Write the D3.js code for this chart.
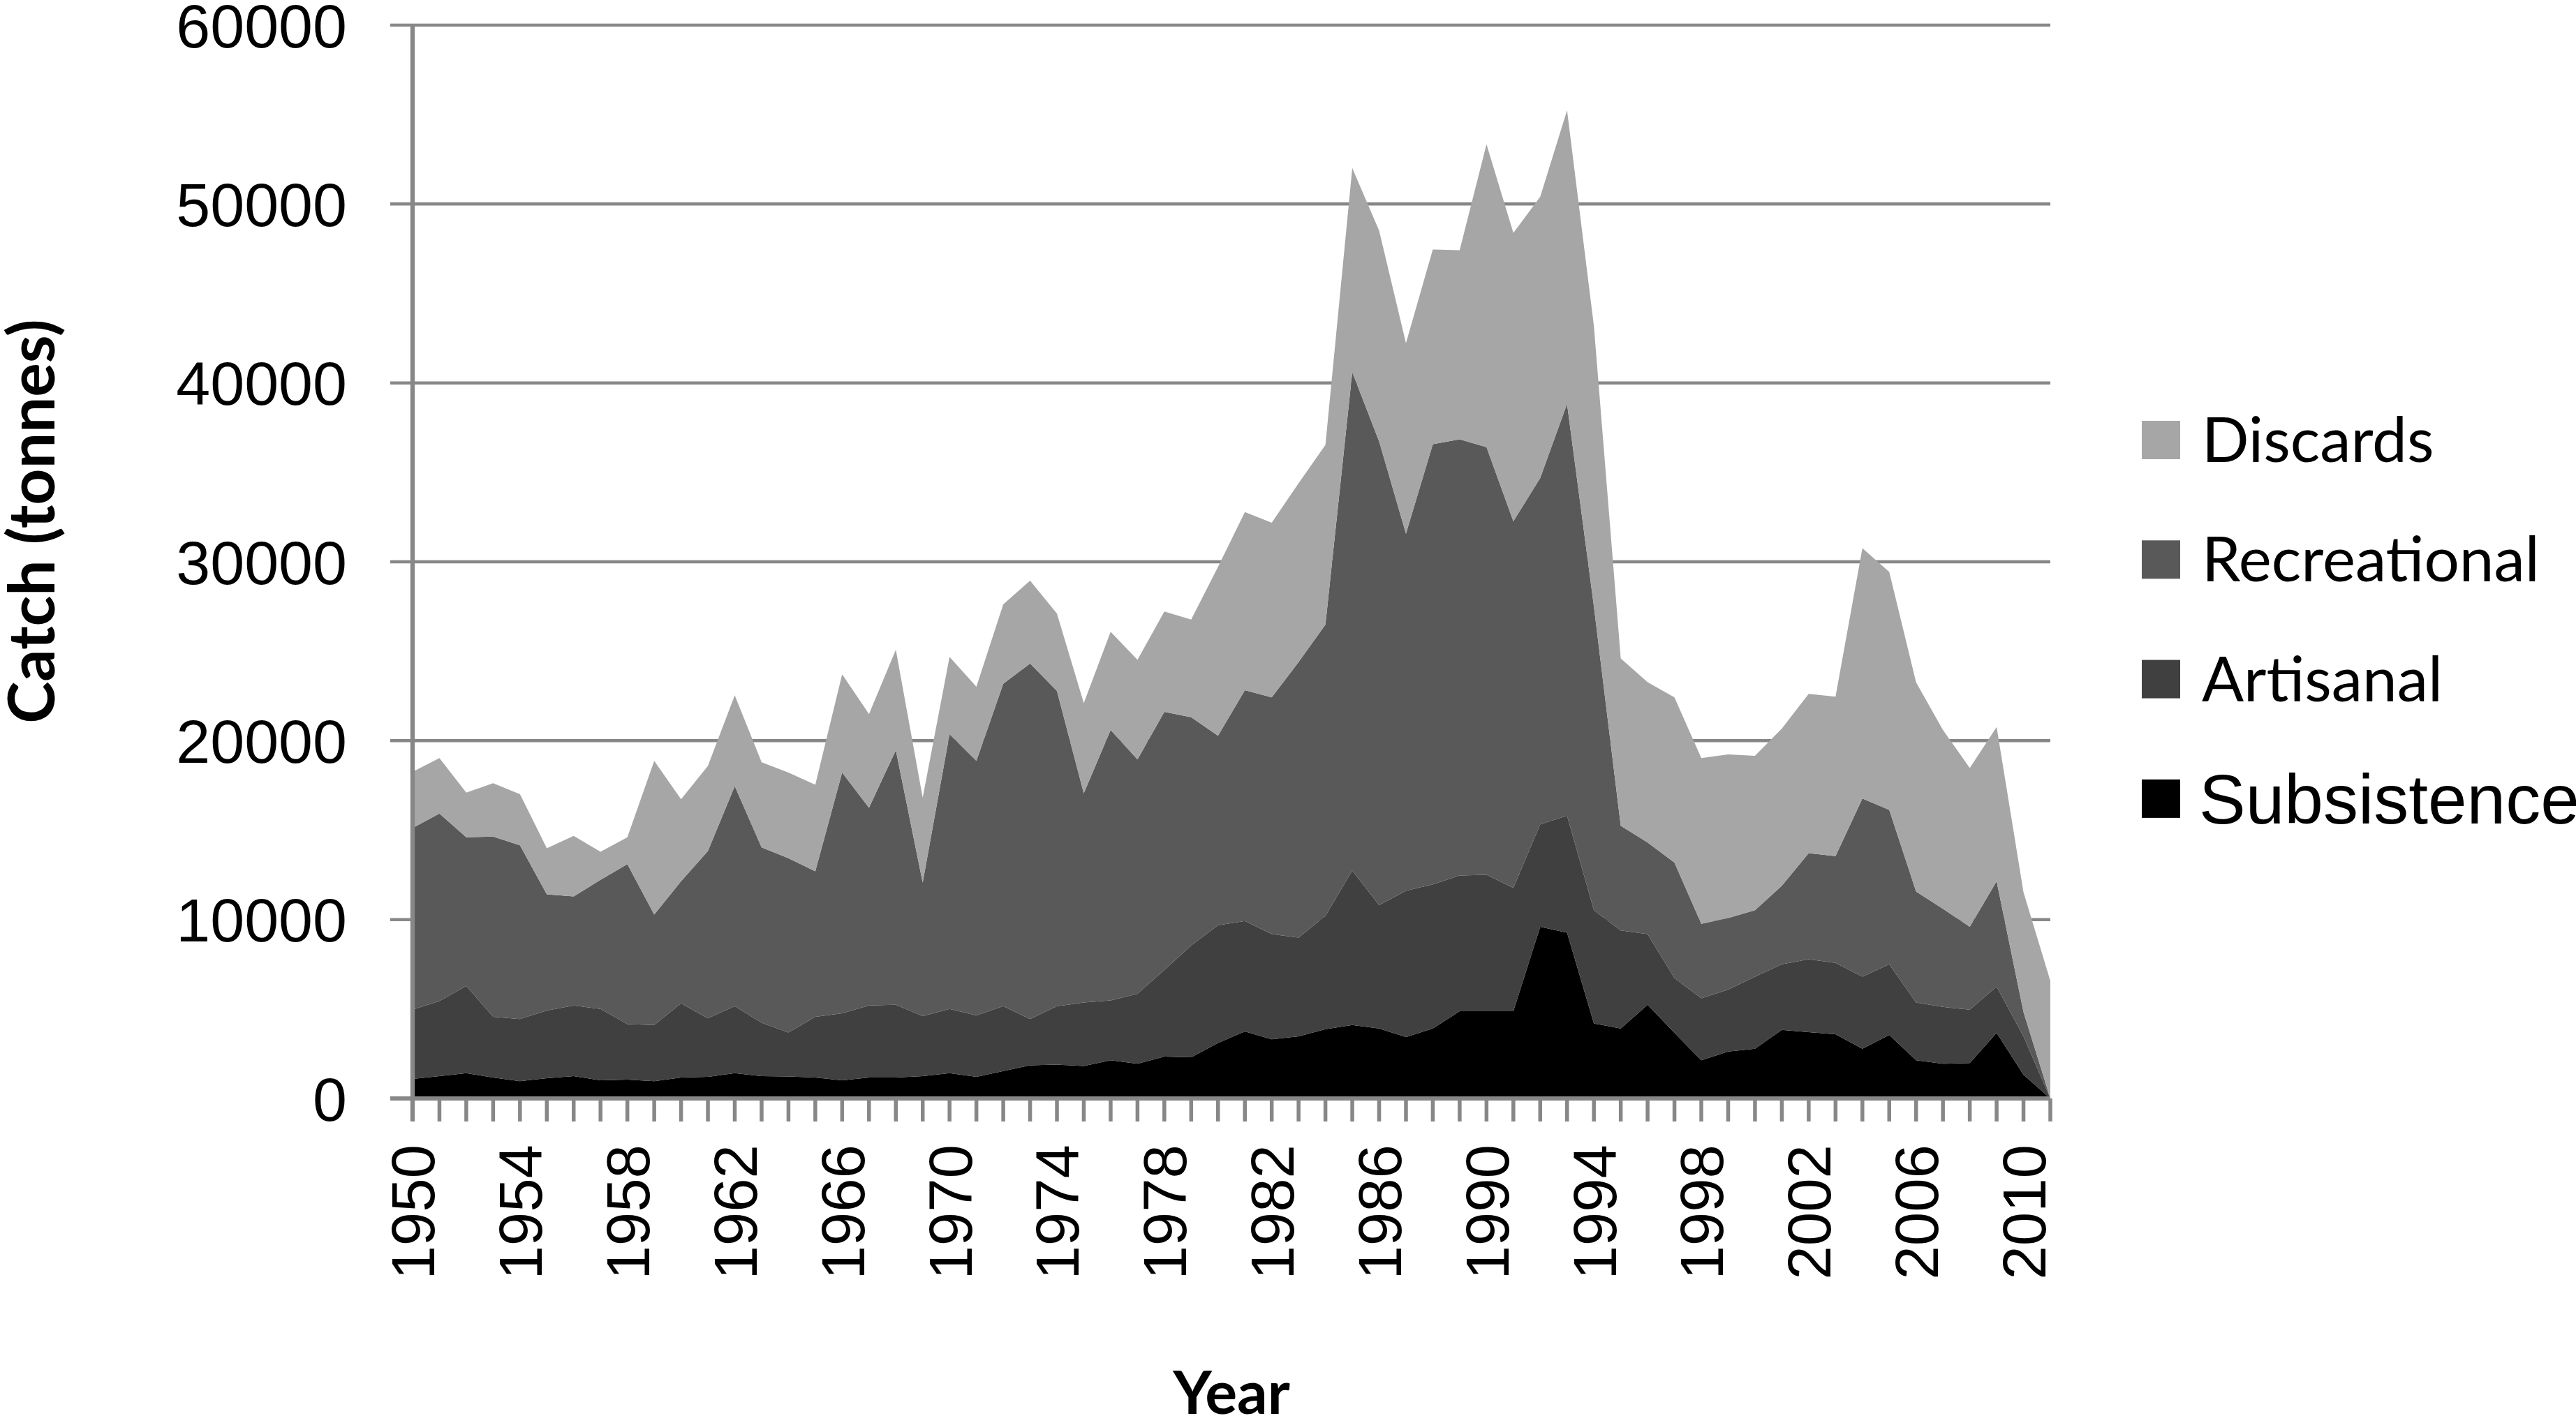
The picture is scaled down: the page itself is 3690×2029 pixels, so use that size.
<!DOCTYPE html>
<html>
<head>
<meta charset="utf-8">
<script src="https://cdn.jsdelivr.net/npm/d3@7"></script>
<style>
  html, body { margin: 0; padding: 0; background: #ffffff; }
  svg { display: block; }
</style>
</head>
<body>
<svg id="chart" width="3690" height="2029"></svg>
<script>
// ---------------- DATA ----------------
const years = [1950,1951,1952,1953,1954,1955,1956,1957,1958,1959,
  1960,1961,1962,1963,1964,1965,1966,1967,1968,1969,
  1970,1971,1972,1973,1974,1975,1976,1977,1978,1979,
  1980,1981,1982,1983,1984,1985,1986,1987,1988,1989,
  1990,1991,1992,1993,1994,1995,1996,1997,1998,1999,
  2000,2001,2002,2003,2004,2005,2006,2007,2008,2009,
  2010,2011];

const subsistence = [1090,1250,1410,1170,970,1130,1250,1010,1050,970,
  1170,1210,1410,1250,1230,1170,1010,1170,1170,1250,
  1410,1210,1530,1850,1890,1810,2140,1940,2340,2300,
  3100,3750,3310,3470,3870,4110,3910,3430,3910,4880,
  4880,4880,9600,9270,4190,3910,5240,3670,2140,2620,
  2780,3830,3710,3590,2780,3550,2140,1940,1980,3670,
  1330,0];

const artisanal = [3870,4190,4880,3390,3470,3790,3950,3990,3100,3140,
  4150,3270,3750,2980,2460,3390,3750,4030,4070,3350,
  3590,3430,3630,2590,3270,3550,3340,3910,4840,6250,
  6580,6170,5880,5520,6330,8630,6900,8180,8060,7580,
  7620,6890,5720,6540,6330,5480,3950,3060,3460,3470,
  4030,3670,4070,3990,4030,3950,3220,3180,2980,2580,
  2140,0];

const recreational = [10160,10490,8310,10080,9710,6490,6090,7220,8950,6170,
  6820,9350,12300,9800,9740,8140,13460,11050,14230,7460,
  15360,14230,18020,19870,17620,11700,15120,13100,14430,12760,
  10600,12900,13230,15400,16290,27860,25920,19960,24600,24390,
  23910,20490,19360,23020,16980,5850,5120,6460,4160,3990,
  3710,4390,5930,5970,9960,8630,6210,5480,4640,5890,
  1370,0];

const discards = [3140,3100,2500,2980,2860,2580,3390,1570,1500,8590,
  4590,4760,5080,4760,4790,4840,5490,5240,5610,4750,
  4320,4150,4440,4640,4320,5040,5490,5570,5610,5460,
  9440,9960,9760,10000,10040,11410,11780,10650,10890,10570,
  16930,16120,15720,16410,15680,9360,8960,9230,9270,9150,
  8630,8790,8910,8910,13990,13300,11690,10000,8870,8620,
  6690,6570];

const seriesNames = ["Subsistence", "Artisanal", "Recreational", "Discards"];
const seriesColors = ["#000000", "#404040", "#595959", "#a6a6a6"];
const legendOrder = ["Discards", "Recreational", "Artisanal", "Subsistence"];
const yTickValues = [0, 10000, 20000, 30000, 40000, 50000, 60000];
const xTickLabels = [1950,1954,1958,1962,1966,1970,1974,1978,1982,1986,1990,1994,1998,2002,2006,2010];
const yAxisTitle = "Catch (tonnes)";
const xAxisTitle = "Year";

// ---------------- TABLE ----------------
const seriesValues = { Subsistence: subsistence, Artisanal: artisanal, Recreational: recreational, Discards: discards };
const table = years.map((yr, i) => {
  const row = { year: yr };
  seriesNames.forEach(k => { row[k] = seriesValues[k][i]; });
  return row;
});

// ---------------- LAYOUT ----------------
const svg = d3.select("#chart");
const plotLeft = 591, plotRight = 2937, plotTop = 36, plotBottom = 1574;
const axisColor = "#878787";

const x = d3.scaleLinear().domain([years[0], years[years.length - 1]]).range([plotLeft, plotRight]);
const y = d3.scaleLinear().domain([0, 60000]).range([plotBottom, plotTop]);

// gridlines (behind areas)
const grid = svg.append("g");
grid.selectAll("line").data(yTickValues.filter(v => v > 0)).join("line")
  .attr("x1", plotLeft - 32).attr("x2", plotRight)
  .attr("y1", d => y(d)).attr("y2", d => y(d))
  .attr("stroke", axisColor).attr("stroke-width", 4.5);

// stacked areas
const stack = d3.stack().keys(seriesNames);
const stacked = stack(table);
const area = d3.area()
  .x(d => x(d.data.year))
  .y0(d => y(d[0]))
  .y1(d => y(d[1]));
const colorOf = d3.scaleOrdinal().domain(seriesNames).range(seriesColors);

svg.append("g").selectAll("path").data(stacked).join("path")
  .attr("d", area)
  .attr("fill", d => colorOf(d.key));

// x axis line and ticks
const xAxisG = svg.append("g");
xAxisG.append("line")
  .attr("x1", plotLeft - 32).attr("x2", plotRight)
  .attr("y1", y(0)).attr("y2", y(0))
  .attr("stroke", axisColor).attr("stroke-width", 6);
xAxisG.selectAll("line.tick").data(years).join("line")
  .attr("class", "tick")
  .attr("x1", d => x(d)).attr("x2", d => x(d))
  .attr("y1", y(0)).attr("y2", y(0) + 33)
  .attr("stroke", axisColor).attr("stroke-width", 5.5);

// y axis line
svg.append("line")
  .attr("x1", plotLeft).attr("x2", plotLeft)
  .attr("y1", plotTop - 2).attr("y2", plotBottom + 33)
  .attr("stroke", axisColor).attr("stroke-width", 6.3);

// y tick labels
svg.append("g").selectAll("text").data(yTickValues).join("text")
  .attr("x", 497)
  .attr("y", d => y(d))
  .attr("dy", "0.36em")
  .attr("text-anchor", "end")
  .attr("font-family", "'Liberation Sans', Arial, sans-serif")
  .attr("font-size", 88)
  .attr("fill", "#000")
  .text(d => d);

// x tick labels (rotated)
svg.append("g").selectAll("text").data(xTickLabels).join("text")
  .attr("transform", d => `translate(${x(d)},1640) rotate(-90)`)
  .attr("dy", "0.36em")
  .attr("text-anchor", "end")
  .attr("font-family", "'Liberation Sans', Arial, sans-serif")
  .attr("font-size", 87)
  .attr("fill", "#000")
  .text(d => d);

// axis titles
svg.append("text")
  .attr("transform", "translate(46,747) rotate(-90)")
  .attr("dy", "0.35em")
  .attr("text-anchor", "middle")
  .attr("font-family", "Lato, 'Open Sans', sans-serif")
  .attr("font-weight", "bold")
  .attr("font-size", 91)
  .attr("fill", "#000")
  .text(yAxisTitle);

svg.append("text")
  .attr("x", (plotLeft + plotRight) / 2)
  .attr("y", 2026)
  .attr("text-anchor", "middle")
  .attr("font-family", "Lato, 'Open Sans', sans-serif")
  .attr("font-weight", "bold")
  .attr("font-size", 86)
  .attr("fill", "#000")
  .text(xAxisTitle);

// legend
const legend = svg.append("g");
const legendRows = legend.selectAll("g").data(legendOrder).join("g")
  .attr("transform", (d, i) => `translate(3068,${630 + i * 171.3})`);
legendRows.append("rect")
  .attr("x", 0).attr("y", -27).attr("width", 55).attr("height", 55)
  .attr("fill", d => colorOf(d));
legendRows.append("text")
  .attr("x", d => d === "Subsistence" ? 82 : 86)
  .attr("y", 0)
  .attr("dy", "0.36em")
  .attr("font-family", d => d === "Subsistence" ? "'Liberation Sans', Arial, sans-serif" : "Lato, 'Open Sans', sans-serif")
  .attr("font-size", d => d === "Subsistence" ? 100 : 89)
  .attr("fill", "#000")
  .text(d => d);
</script>
</body>
</html>
